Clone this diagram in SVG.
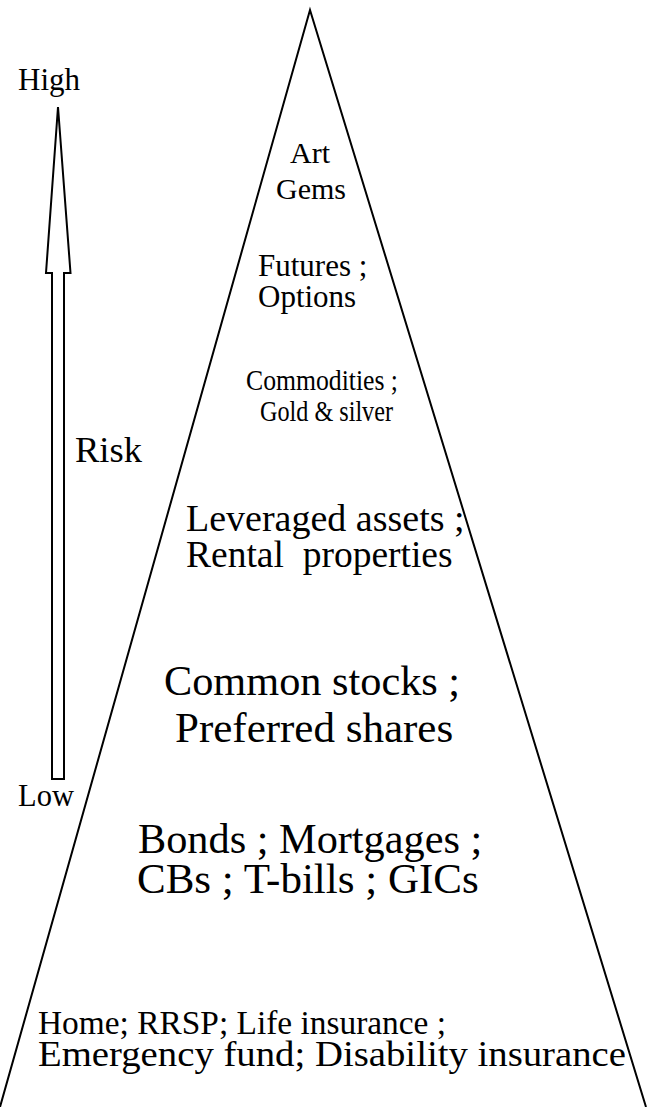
<svg xmlns="http://www.w3.org/2000/svg" width="653" height="1107" viewBox="0 0 653 1107">
<style>
text{font-family:'Liberation Serif','Times New Roman',serif;fill:#000}
.ln{fill:none;stroke:#000;stroke-width:2}
</style>
<rect width="653" height="1107" fill="#fff"/>
<g id="pyramid">
<polyline class="ln" points="0,1107 310,10 646,1107"/>
</g>
<g id="risk-arrow">
<polygon class="ln" points="58,107 70.5,273 64,273 64,779 52,779 52,273 46,273"/>
<text x="18" y="90" font-size="31">High</text>
<text x="18" y="806" font-size="30.5">Low</text>
<text x="75" y="462" font-size="36.5">Risk</text>
</g>
<g id="art">
<text x="290" y="163" font-size="30">Art</text>
<text x="276" y="199" font-size="30">Gems</text>
</g>
<g id="futures">
<text x="258" y="276" font-size="31">Futures ;</text>
<text x="258" y="307" font-size="31">Options</text>
</g>
<g id="commodities">
<text x="246" y="390" font-size="29" textLength="152" lengthAdjust="spacingAndGlyphs">Commodities ;</text>
<text x="260" y="421" font-size="29" textLength="133" lengthAdjust="spacingAndGlyphs">Gold &amp; silver</text>
</g>
<g id="leveraged">
<text x="186" y="531" font-size="38">Leveraged assets ;</text>
<text x="186" y="567" font-size="37.5" xml:space="preserve">Rental  properties</text>
</g>
<g id="stocks">
<text x="164" y="695" font-size="42.3">Common stocks ;</text>
<text x="175" y="742" font-size="43">Preferred shares</text>
</g>
<g id="bonds">
<text x="138" y="853" font-size="42.3">Bonds ; Mortgages ;</text>
<text x="137" y="893" font-size="43">CBs ; T-bills ; GICs</text>
</g>
<g id="home">
<text x="38" y="1034" font-size="33.4">Home; RRSP; Life insurance ;</text>
<text x="38" y="1066" font-size="35" textLength="588" lengthAdjust="spacingAndGlyphs">Emergency fund; Disability insurance</text>
</g>
</svg>
